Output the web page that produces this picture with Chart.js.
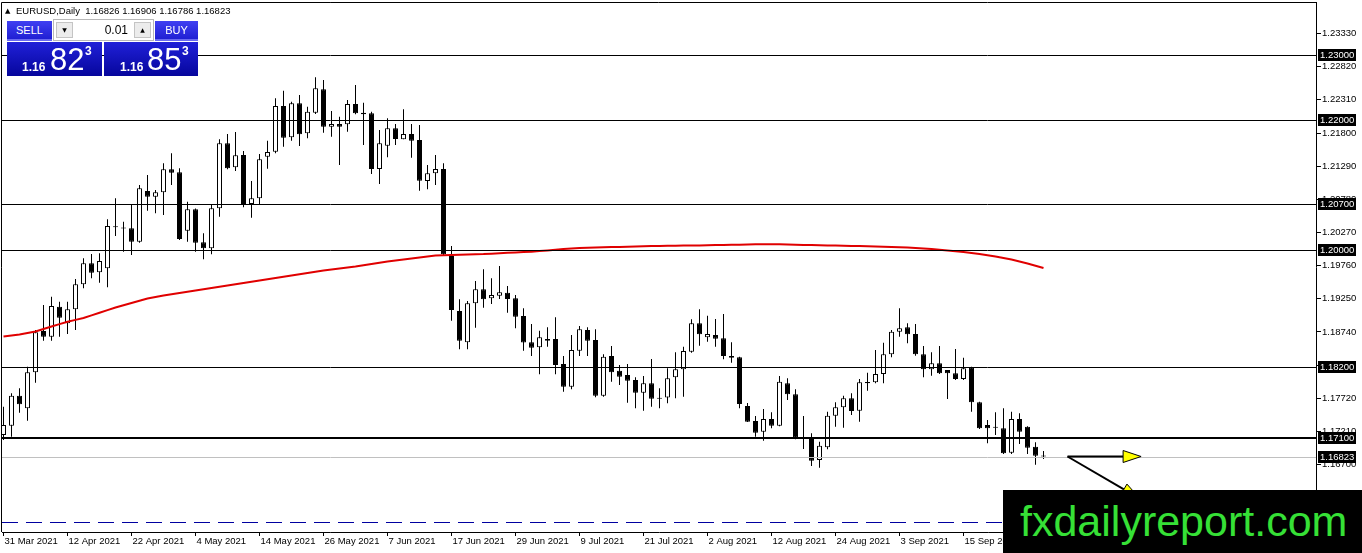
<!DOCTYPE html>
<html>
<head>
<meta charset="utf-8">
<script src="https://cdn.jsdelivr.net/npm/chart.js@4.4.1/dist/chart.umd.min.js"></script>
<style>
  body { margin: 0; background: #fff; }
  #wrap { position: relative; width: 1362px; height: 553px; overflow: hidden; font-family: 'Liberation Sans', Arial, sans-serif; }
  #c { position: absolute; left: 0; top: 0; }
  #hdr { position: absolute; left: 5px; top: 5px; font-size: 9.5px; line-height: 12px; color: #000; white-space: nowrap; }
  #hdr .tri { font-family: 'DejaVu Sans'; font-size: 7px; vertical-align: 1px; margin-right: 3px; }
  .btn { position: absolute; top: 21px; height: 20px; color: #fff; font-size: 11px; line-height: 19px; text-align: center;
         background: linear-gradient(#4040f2, #1c1cd0); box-shadow: inset 0 -2px 0 #6a6af0; }
  #sell { left: 7px; width: 45px; }
  #buy { left: 155px; width: 43px; }
  #lot { position: absolute; left: 53px; top: 19px; width: 101px; height: 22px; background: #fff; border: 1px solid #b8b8b8; box-sizing: border-box; }
  .spin { position: absolute; top: 2px; width: 17px; height: 16px; background: #ececec; border: 1px solid #c4c4c4; box-sizing: border-box;
          font-family: 'DejaVu Sans'; font-size: 6px; line-height: 14px; text-align: center; color: #000; }
  #dn { left: 2px; }
  #up { right: 2px; }
  #lotv { position: absolute; right: 25px; top: 3px; font-size: 12px; line-height: 14px; color: #000; }
  .px { position: absolute; top: 42px; height: 34px; color: #fff; background: linear-gradient(#2020d8, #06069c); }
  #pxs { left: 7px; width: 95px; }
  #pxb { left: 104px; width: 94px; }
  .px span { position: absolute; white-space: nowrap; }
  .px .s { font-size: 12px; font-weight: bold; line-height: 12px; top: 19px; }
  .px .b { font-size: 31px; line-height: 31px; top: 2px; left: 43px; }
  .px .u { font-size: 12px; font-weight: bold; line-height: 12px; top: 3px; left: 78px; }
  #pxs .s { left: 15px; }
  #pxb .s { left: 16px; }
  #wm { position: absolute; left: 1003px; top: 490px; width: 359px; height: 63px; background: #000; color: #36e036;
        font-size: 43px; line-height: 63px; padding-left: 17px; box-sizing: border-box; white-space: nowrap; overflow: hidden; }
</style>
</head>
<body>
<div id="wrap">
  <canvas id="c" width="1362" height="553"></canvas>
  <div id="hdr"><span class="tri">▲</span> EURUSD,Daily&nbsp; 1.16826 1.16906 1.16786 1.16823</div>
  <div class="btn" id="sell">SELL</div>
  <div id="lot"><div class="spin" id="dn">▼</div><div id="lotv">0.01</div><div class="spin" id="up">▲</div></div>
  <div class="btn" id="buy">BUY</div>
  <div class="px" id="pxs"><span class="s">1.16</span><span class="b">82</span><span class="u">3</span></div>
  <div class="px" id="pxb"><span class="s">1.16</span><span class="b">85</span><span class="u">3</span></div>
  <div id="wm">fxdailyreport.com</div>
</div>
<script>
// EURUSD daily candles, 31 Mar 2021 .. 29 Sep 2021 (one per trading day)
const open = [
  1.17154,1.17297,1.17758,1.17565,1.18118,1.18754,1.18667,1.19128,1.18872,1.19088,
  1.19472,1.19795,1.19658,1.19718,1.20362,1.20340,1.20333,1.20128,1.20908,1.20820,
  1.20888,1.21242,1.21197,1.20297,1.20626,1.20120,1.20026,1.20642,1.21642,1.21272,
  1.21462,1.20708,1.20795,1.21435,1.21512,1.22215,1.21735,1.22257,1.21795,1.22112,
  1.22472,1.21897,1.21938,1.21934,1.22246,1.22112,1.22103,1.21246,1.21605,1.21872,
  1.21703,1.21785,1.21692,1.21062,1.21180,1.21246,1.19908,1.19062,1.18580,1.19180,
  1.19395,1.19257,1.19297,1.19343,1.19257,1.18985,1.18580,1.18503,1.18631,1.18631,
  1.18246,1.17897,1.18451,1.18769,1.18615,1.17759,1.18369,1.18144,1.18077,1.18000,
  1.17805,1.17949,1.17720,1.17729,1.18041,1.18165,1.18436,1.18872,1.18659,1.18692,
  1.18641,1.18369,1.18349,1.17600,1.17369,1.17205,1.17400,1.17297,1.17949,1.17782,
  1.17108,1.17112,1.16769,1.16964,1.17451,1.17580,1.17718,1.17528,1.17969,1.17966,
  1.18092,1.18395,1.18743,1.18811,1.18708,1.18395,1.18165,1.18257,1.18154,1.18103,
  1.18015,1.18190,1.17657,1.17308,1.17270,1.17257,1.16882,1.17400,1.17282,1.16974,
  1.16826];
const high = [
  1.17590,1.17795,1.17872,1.18205,1.18769,1.19154,1.19282,1.19205,1.19205,1.19554,
  1.19872,1.19938,1.19949,1.20472,1.20795,1.20435,1.20692,1.21000,1.21154,1.20923,
  1.21334,1.21488,1.21257,1.20743,1.20640,1.20257,1.20692,1.21703,1.21785,1.21815,
  1.21523,1.21062,1.21477,1.21682,1.22334,1.22451,1.22282,1.22385,1.22205,1.22657,
  1.22615,1.22138,1.22051,1.22308,1.22538,1.22266,1.22128,1.21846,1.22026,1.21938,
  1.22164,1.21938,1.21923,1.21308,1.21462,1.21334,1.20062,1.19242,1.19215,1.19523,
  1.19703,1.19565,1.19754,1.19446,1.19308,1.19103,1.18862,1.18759,1.18811,1.18965,
  1.18369,1.18692,1.18831,1.18811,1.18780,1.18395,1.18523,1.18231,1.18246,1.18041,
  1.18062,1.18323,1.17872,1.18180,1.18426,1.18512,1.18934,1.19088,1.18989,1.18938,
  1.19015,1.18580,1.18359,1.17646,1.17446,1.17554,1.17503,1.18062,1.18026,1.17858,
  1.17446,1.17180,1.17051,1.17513,1.17657,1.17759,1.17795,1.18015,1.18112,1.18462,
  1.18574,1.18769,1.19103,1.18872,1.18862,1.18523,1.18426,1.18523,1.18154,1.18477,
  1.18343,1.18205,1.17667,1.17385,1.17503,1.17565,1.17513,1.17487,1.17287,1.17041,
  1.16906];
const low = [
  1.17077,1.17128,1.17497,1.17374,1.17958,1.18605,1.18605,1.18667,1.18708,1.18769,
  1.19411,1.19565,1.19497,1.19426,1.20215,1.19974,1.19923,1.20112,1.20605,1.20564,
  1.20538,1.21000,1.20154,1.20128,1.19974,1.19857,1.19934,1.20513,1.21242,1.21215,
  1.20657,1.20497,1.20708,1.21251,1.21488,1.21589,1.21682,1.21600,1.21718,1.22092,
  1.21805,1.21743,1.21308,1.21820,1.22090,1.21615,1.21169,1.21015,1.21426,1.21615,
  1.21703,1.21420,1.20913,1.20934,1.21000,1.19920,1.18912,1.18472,1.18472,1.18805,
  1.19113,1.19169,1.19246,1.19036,1.18795,1.18451,1.18369,1.18088,1.18513,1.18088,
  1.17820,1.17858,1.18369,1.18369,1.17735,1.17744,1.17974,1.17923,1.17651,1.17565,
  1.17528,1.17590,1.17565,1.17643,1.17720,1.17744,1.18420,1.18528,1.18590,1.18512,
  1.18318,1.18266,1.17565,1.17354,1.17128,1.17066,1.17257,1.17290,1.17692,1.17089,
  1.16938,1.16677,1.16651,1.16934,1.17282,1.17267,1.17462,1.17358,1.17835,1.17949,
  1.17949,1.18349,1.18667,1.18565,1.18374,1.18042,1.18066,1.18092,1.17708,1.18000,
  1.18000,1.17513,1.17245,1.17026,1.17154,1.16862,1.16862,1.17015,1.16862,1.16697,
  1.16786];
const close = [
  1.17308,1.17758,1.17626,1.18118,1.18734,1.18667,1.19138,1.18958,1.19088,1.19472,
  1.19795,1.19651,1.19831,1.20369,1.20350,1.20330,1.20128,1.20949,1.20820,1.20888,
  1.21242,1.21189,1.20169,1.20626,1.20113,1.20026,1.20642,1.21642,1.21257,1.21457,
  1.20708,1.20795,1.21395,1.21508,1.22215,1.21728,1.22257,1.21780,1.22128,1.22488,
  1.21897,1.21938,1.21897,1.22246,1.22103,1.22088,1.21246,1.21642,1.21872,1.21708,
  1.21785,1.21682,1.21066,1.21180,1.21246,1.19934,1.19077,1.18605,1.19180,1.19395,
  1.19242,1.19308,1.19349,1.19246,1.18974,1.18575,1.18497,1.18657,1.18605,1.18231,
  1.17897,1.18462,1.18780,1.18605,1.17759,1.18359,1.18118,1.18051,1.17990,1.17805,
  1.17949,1.17713,1.17710,1.18026,1.18165,1.18446,1.18872,1.18703,1.18708,1.18636,
  1.18369,1.18344,1.17631,1.17358,1.17189,1.17400,1.17297,1.17974,1.17782,1.17112,
  1.17100,1.16758,1.16989,1.17451,1.17580,1.17718,1.17523,1.17966,1.17949,1.18092,
  1.18395,1.18743,1.18795,1.18703,1.18395,1.18165,1.18257,1.18103,1.18103,1.18015,
  1.18180,1.17657,1.17257,1.17257,1.17265,1.16872,1.17400,1.17205,1.16958,1.16835,
  1.16823];
// red moving average, one value per candle
const movingAvg = [
  1.18669,1.18685,1.18700,1.18722,1.18746,1.18785,1.18823,1.18860,1.18897,1.18925,
  1.18954,1.18995,1.19035,1.19075,1.19115,1.19150,1.19185,1.19220,1.19254,1.19277,
  1.19300,1.19319,1.19338,1.19357,1.19377,1.19396,1.19415,1.19434,1.19454,1.19473,
  1.19492,1.19511,1.19531,1.19550,1.19569,1.19588,1.19608,1.19627,1.19646,1.19665,
  1.19685,1.19700,1.19715,1.19730,1.19746,1.19765,1.19785,1.19804,1.19823,1.19838,
  1.19854,1.19870,1.19885,1.19900,1.19915,1.19919,1.19923,1.19927,1.19931,1.19935,
  1.19938,1.19944,1.19949,1.19956,1.19962,1.19968,1.19974,1.19983,1.19992,1.20003,
  1.20015,1.20023,1.20031,1.20035,1.20038,1.20042,1.20046,1.20048,1.20051,1.20054,
  1.20057,1.20060,1.20062,1.20064,1.20066,1.20068,1.20069,1.20071,1.20072,1.20075,
  1.20077,1.20080,1.20082,1.20085,1.20088,1.20089,1.20089,1.20087,1.20085,1.20081,
  1.20077,1.20075,1.20072,1.20070,1.20068,1.20065,1.20062,1.20060,1.20057,1.20054,
  1.20051,1.20047,1.20043,1.20037,1.20031,1.20023,1.20015,1.20004,1.19992,1.19981,
  1.19969,1.19954,1.19938,1.19919,1.19900,1.19877,1.19854,1.19823,1.19792,1.19758,
  1.19723];

// time axis labels, one every 8 bars
const tickLabels = ['31 Mar 2021','12 Apr 2021','22 Apr 2021','4 May 2021','14 May 2021','26 May 2021',
  '7 Jun 2021','17 Jun 2021','29 Jun 2021','9 Jul 2021','21 Jul 2021','2 Aug 2021','12 Aug 2021',
  '24 Aug 2021','3 Sep 2021','15 Sep 2021','27 Sep 2021'];
const barsPerLabel = 8;
const priceTicks = [1.16700,1.17210,1.17720,1.18230,1.18740,1.19250,1.19760,1.20270,1.20780,1.21290,1.21800,1.22310,1.22820,1.23330];

// horizontal levels drawn on the chart
const levels = [1.23000, 1.22000, 1.20700, 1.20000, 1.18200, 1.17100];
const levelWidths = [1, 1, 1, 1, 1, 2];
const lastPrice = 1.16823;
const dashedLevel = 1.15815;
// arrows: [fromBar, fromPrice, toBar, toPrice]
const arrows = [[133, 1.16823, 142.2, 1.16823], [133, 1.16823, 142.0, 1.16180]];

Chart.defaults.font.family = "'Liberation Sans', Arial, sans-serif";
Chart.defaults.font.size = 9.5;
Chart.defaults.color = '#000';

const bodies = open.map((o, i) => ({ x: i, y: [o, close[i]] }));
const wicks = low.map((l, i) => ({ x: i, y: [l, high[i]] }));
const maPoints = movingAvg.map((v, i) => ({ x: i, y: v }));

function drawArrow(ctx, x0, y0, x1, y1) {
  const ang = Math.atan2(y1 - y0, x1 - x0);
  const len = 18, half = 6;
  const bx = x1 - len * Math.cos(ang), by = y1 - len * Math.sin(ang);
  ctx.strokeStyle = '#000';
  ctx.lineWidth = 2;
  ctx.beginPath();
  ctx.moveTo(x0, y0);
  ctx.lineTo(bx, by);
  ctx.stroke();
  ctx.beginPath();
  ctx.moveTo(x1, y1);
  ctx.lineTo(bx + half * Math.sin(ang), by - half * Math.cos(ang));
  ctx.lineTo(bx - half * Math.sin(ang), by + half * Math.cos(ang));
  ctx.closePath();
  ctx.fillStyle = '#ffff00';
  ctx.fill();
  ctx.lineWidth = 1;
  ctx.stroke();
}

const overlay = {
  id: 'overlay',
  afterDatasetsDraw(chart) {
    const { ctx, chartArea: a, scales: { x, y } } = chart;
    ctx.save();
    // frame (top and left)
    ctx.strokeStyle = '#000';
    ctx.lineWidth = 1;
    ctx.beginPath();
    ctx.moveTo(a.left - 0.5, a.bottom);
    ctx.lineTo(a.left - 0.5, a.top + 0.5);
    ctx.lineTo(a.right, a.top + 0.5);
    ctx.stroke();
    // dashed blue line
    let py = Math.round(y.getPixelForValue(dashedLevel)) + 0.5;
    ctx.strokeStyle = '#0000a0';
    ctx.setLineDash([16, 8]);
    ctx.beginPath();
    ctx.moveTo(a.left, py);
    ctx.lineTo(a.right, py);
    ctx.stroke();
    ctx.setLineDash([]);
    // current price line
    py = Math.round(y.getPixelForValue(lastPrice)) + 0.5;
    ctx.strokeStyle = '#c0c0c0';
    ctx.beginPath();
    ctx.moveTo(a.left, py);
    ctx.lineTo(a.right, py);
    ctx.stroke();
    // horizontal levels
    levels.forEach((v, k) => {
      const w = levelWidths[k];
      const ly = Math.round(y.getPixelForValue(v)) + (w % 2 ? 0.5 : 0);
      ctx.strokeStyle = '#000';
      ctx.lineWidth = w;
      ctx.beginPath();
      ctx.moveTo(a.left, ly);
      ctx.lineTo(a.right, ly);
      ctx.stroke();
    });
    // arrows
    arrows.forEach(r => drawArrow(ctx, x.getPixelForValue(r[0]), y.getPixelForValue(r[1]),
                                  x.getPixelForValue(r[2]), y.getPixelForValue(r[3])));
    ctx.restore();
  },
  afterDraw(chart) {
    const { ctx, chartArea: a, scales: { y } } = chart;
    ctx.save();
    ctx.font = "9.5px 'Liberation Sans', Arial, sans-serif";
    ctx.textBaseline = 'middle';
    levels.concat([lastPrice]).forEach(v => {
      const py = Math.round(y.getPixelForValue(v));
      ctx.fillStyle = '#000';
      ctx.fillRect(a.right + 2, py - 6, 38, 12);
      ctx.fillStyle = '#fff';
      ctx.fillText(v.toFixed(5), a.right + 4, py + 0.5);
    });
    ctx.restore();
  }
};

new Chart(document.getElementById('c'), {
  type: 'bar',
  data: {
    datasets: [
      {
        type: 'line',
        data: maPoints,
        borderColor: '#e00000',
        borderWidth: 2,
        pointRadius: 0,
        tension: 0,
        order: 0
      },
      {
        data: bodies,
        barThickness: 5,
        grouped: false,
        borderWidth: 1,
        borderColor: '#000',
        borderSkipped: false,
        inflateAmount: 0,
        minBarLength: 1,
        backgroundColor: ctx => close[ctx.dataIndex] >= open[ctx.dataIndex] ? '#fff' : '#000',
        order: 1
      },
      {
        data: wicks,
        barThickness: 1,
        grouped: false,
        borderWidth: 0,
        inflateAmount: 0,
        backgroundColor: '#000',
        order: 2
      }
    ]
  },
  options: {
    responsive: false,
    animation: false,
    devicePixelRatio: 1,
    layout: { padding: { left: 2, top: 2, right: 0, bottom: 0 } },
    plugins: {
      legend: { display: false },
      tooltip: { enabled: false }
    },
    scales: {
      x: {
        type: 'linear',
        offset: false,
        min: -0.1875,
        max: 164.0625,
        afterBuildTicks: s => { s.ticks = tickLabels.map((t, k) => ({ value: k * barsPerLabel })); },
        afterFit: s => { s.height = 21; s.paddingLeft = 0; s.paddingRight = 0; },
        ticks: {
          callback: v => tickLabels[Math.round(v / barsPerLabel)],
          autoSkip: false,
          maxRotation: 0,
          align: 'start',
          labelOffset: 1,
          padding: 0,
          color: '#000'
        },
        grid: { display: true, offset: false, drawOnChartArea: false, drawTicks: true, tickLength: 4, color: '#000' },
        border: { display: true, color: '#000' }
      },
      y: {
        position: 'right',
        min: 1.156615,
        max: 1.238154,
        afterBuildTicks: s => { s.ticks = priceTicks.map(v => ({ value: v })); },
        afterFit: s => { s.width = 46; s.paddingTop = 0; s.paddingBottom = 0; },
        ticks: {
          callback: v => v.toFixed(5),
          autoSkip: false,
          padding: 1,
          color: '#000'
        },
        grid: { display: true, drawOnChartArea: false, drawTicks: true, tickLength: 5, color: '#000' },
        border: { display: true, color: '#000' }
      }
    }
  },
  plugins: [overlay]
});
</script>
</body>
</html>
